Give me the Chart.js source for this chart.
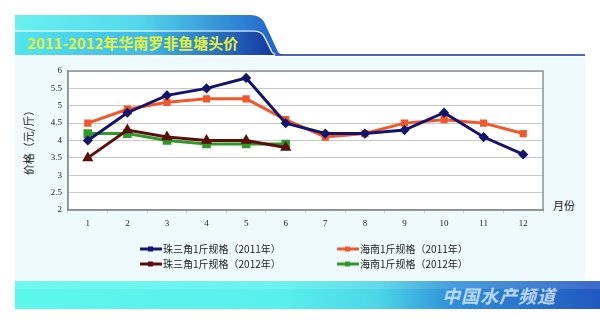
<!DOCTYPE html>
<html>
<head>
<meta charset="utf-8">
<script src="https://cdn.jsdelivr.net/npm/chart.js@4"></script>
<style>
  body { margin: 0; width: 600px; height: 324px; background: #fff; overflow: hidden; position: relative; font-family: "Noto Sans CJK SC", sans-serif; }
  #panel { position: absolute; left: 15px; top: 57px; width: 570px; height: 223px; background: #eefafd; }
  #banner { position: absolute; left: 0; top: 0; }
  #title { position: absolute; left: 27px; top: 34px; font-size: 15px; line-height: 18px; font-weight: bold; color: #e4f03c; white-space: nowrap; }
  #footer { position: absolute; left: 15px; top: 281px; width: 585px; height: 28px;
    background: linear-gradient(to right, #5cf7ec 0%, #58f0ec 45%, #4cd6e8 62%, #2f8fd8 75%, #2258c0 100%); }
  #footer .hl { position: absolute; left: 0; top: 0; right: 0; height: 8px; background: rgba(255,255,255,0.12); }
  #brand { position: absolute; left: 442px; top: 284px; font-size: 18px; line-height: 22px; font-weight: bold; font-style: italic; color: rgba(225,240,255,0.8); letter-spacing: 1px; }
  #unit { position: absolute; left: 553px; top: 197px; font-size: 11px; color: #222; }
  #yt { position: absolute; left: 28px; top: 140px; font-size: 11px; color: #222; transform: translate(-50%, -50%) rotate(-90deg); white-space: nowrap; }
  #chart { position: absolute; left: 0; top: 0; }
</style>
</head>
<body>
<div id="panel"></div>
<svg id="banner" width="600" height="60">
  <defs>
    <linearGradient id="g1" x1="0" x2="1" y1="0" y2="0">
      <stop offset="0" stop-color="#6af0ee"/>
      <stop offset="0.45" stop-color="#56d8ec"/>
      <stop offset="1" stop-color="#1c5cc8"/>
    </linearGradient>
    <linearGradient id="g2" x1="0" x2="1" y1="0" y2="0">
      <stop offset="0" stop-color="#52e6ee"/>
      <stop offset="0.5" stop-color="#3fb8e4"/>
      <stop offset="1" stop-color="#14349e"/>
    </linearGradient>
  </defs>
  <path d="M15 15 L250 15 Q262 15 266 26 L278 52 Q280 55 286 55 L15 55 Z" fill="url(#g1)"/>
  <path d="M15 32 L255 32 Q262 32 264 38 L271 52 Q273 55 278 55 L15 55 Z" fill="url(#g2)"/>
  <path d="M15 31 L254 31 Q262 31 265 38 L272 52 Q274 55 280 55" fill="none" stroke="#ffffff" stroke-width="1.2"/>
  <line x1="275" y1="55" x2="585" y2="55" stroke="#1a2fa0" stroke-width="1.5"/>
</svg>
<div id="title">2011-2012年华南罗非鱼塘头价</div>
<div id="footer"><div class="hl"></div></div>
<div id="brand">中国水产频道</div>
<div id="yt">价格（元/斤）</div>
<div id="unit">月份</div>
<canvas id="chart" width="600" height="324"></canvas>
<script>
const months = ["1", "2", "3", "4", "5", "6", "7", "8", "9", "10", "11", "12"];
const zsj2011 = [4.0, 4.8, 5.3, 5.5, 5.8, 4.5, 4.2, 4.2, 4.3, 4.8, 4.1, 3.6];
const hn2011 = [4.5, 4.9, 5.1, 5.2, 5.2, 4.6, 4.1, 4.2, 4.5, 4.6, 4.5, 4.2];
const zsj2012 = [3.5, 4.3, 4.1, 4.0, 4.0, 3.8];
const hn2012 = [4.2, 4.2, 4.0, 3.9, 3.9, 3.9];
const seriesNames = ["珠三角1斤规格（2011年）", "海南1斤规格（2011年）", "珠三角1斤规格（2012年）", "海南1斤规格（2012年）"];

const serif = "'Liberation Serif', 'DejaVu Serif', serif";

// plot background and frame
const plotFrame = {
	id: "plotFrame",
	beforeDraw(chart) {
		const a = chart.chartArea, c = chart.ctx;
		c.save();
		c.fillStyle = "#ffffff";
		c.fillRect(a.left, a.top, a.right - a.left, a.bottom - a.top);
		c.restore();
	},
	beforeDatasetsDraw(chart) {
		const a = chart.chartArea, c = chart.ctx;
		c.save();
		c.strokeStyle = "#8a9296";
		c.lineWidth = 1.5;
		c.strokeRect(a.left, a.top, a.right - a.left, a.bottom - a.top);
		c.restore();
	},
};

// legend in two columns
const twoColLegend = {
	id: "twoColLegend",
	afterDraw(chart) {
		const c = chart.ctx;
		const cols = [140, 337];
		const rows = [249, 264];
		chart.data.datasets.forEach((ds, i) => {
			const x = cols[i % 2], y = rows[Math.floor(i / 2)];
			c.save();
			c.strokeStyle = ds.borderColor;
			c.lineWidth = 3;
			c.beginPath();
			c.moveTo(x, y);
			c.lineTo(x + 22, y);
			c.stroke();
			c.fillStyle = ds.borderColor;
			c.fillRect(x + 8, y - 2.5, 5, 5);
			c.fillStyle = "#222";
			c.font = "10px 'Noto Sans CJK SC', sans-serif";
			c.textBaseline = "middle";
			c.fillText(ds.label, x + 23, y);
			c.restore();
		});
	},
};

new Chart(document.getElementById("chart").getContext("2d"), {
	type: "line",
	data: {
		labels: months,
		datasets: [
			{
				label: seriesNames[0],
				data: zsj2011,
				borderColor: "#14146e",
				backgroundColor: "#14146e",
				borderWidth: 3,
				pointStyle: "rectRot",
				pointRadius: 3,
			},
			{
				label: seriesNames[1],
				data: hn2011,
				borderColor: "#f0582a",
				backgroundColor: "#f0582a",
				borderWidth: 3,
				pointStyle: "rect",
				pointRadius: 3,
			},
			{
				label: seriesNames[2],
				data: zsj2012,
				borderColor: "#5a0f0c",
				backgroundColor: "#5a0f0c",
				borderWidth: 3,
				pointStyle: "triangle",
				pointRadius: 3.5,
			},
			{
				label: seriesNames[3],
				data: hn2012,
				borderColor: "#2f9a2a",
				backgroundColor: "#2f9a2a",
				borderWidth: 3,
				pointStyle: "rect",
				pointRadius: 4,
			},
		],
	},
	options: {
		responsive: false,
		animation: false,
		layout: { padding: { left: 38, right: 57, top: 71, bottom: 94 } },
		plugins: {
			legend: { display: false },
			tooltip: { enabled: false },
		},
		scales: {
			x: {
				offset: true,
				afterFit: (s) => { s.height = 20; },
				grid: { offset: true, drawOnChartArea: false, tickLength: 3, color: "#c8cccc" },
				border: { color: "#8a9296", width: 1.5 },
				ticks: { color: "#222", font: { size: 9, family: serif }, padding: 5, maxRotation: 0 },
			},
			y: {
				min: 2,
				max: 6,
				afterFit: (s) => { s.width = 30; },
				ticks: {
					stepSize: 0.5,
					color: "#222",
					font: { size: 9, family: serif },
					padding: 6,
					callback: (v) => String(Math.round(v * 10) / 10),
				},
				grid: { color: "#c8c8c8", drawTicks: false, lineWidth: 1 },
				border: { color: "#8a9296", width: 1.5 },
			},
		},
	},
	plugins: [plotFrame, twoColLegend],
});
</script>
</body>
</html>
